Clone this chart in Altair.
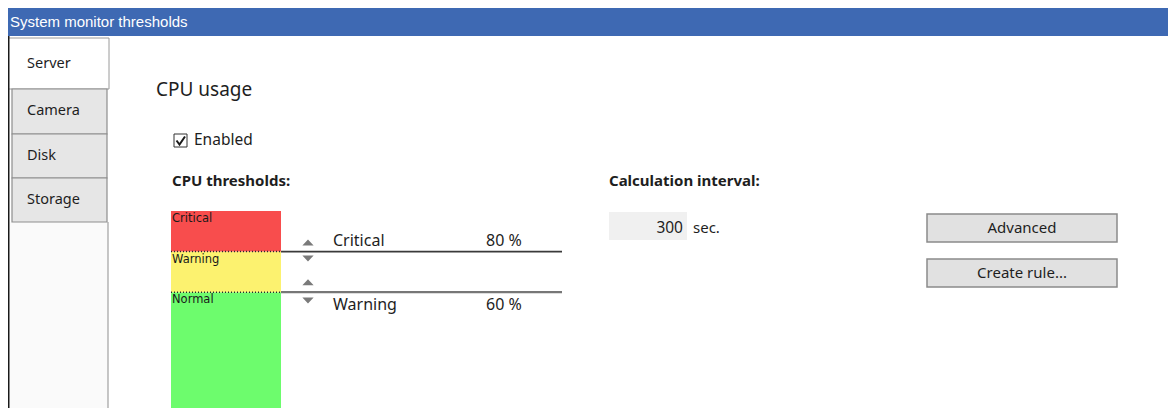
import altair as alt
import pandas as pd

# ---------------- values shown in the dialog ----------------
window_title = "System monitor thresholds"
section_title = "CPU usage"
tab_names = ["Server", "Camera", "Disk", "Storage"]
band_names = ["Normal", "Warning", "Critical"]
band_lo = [0, 60, 80]
band_hi = [60, 80, 100]
band_colors = ["#6dfc6d", "#fcf26f", "#f84d4d"]
threshold_names = ["Critical", "Warning"]
threshold_values = [80, 60]
interval_value = 300
interval_unit = "sec."
button_labels = ["Advanced", "Create rule..."]

# ---------------- layout (page pixels) ----------------
W, H = 1160, 400
UI = "Segoe UI, Noto Sans, Open Sans, sans-serif"
NARROW = "Liberation Sans Narrow, Arial Narrow, Liberation Sans, sans-serif"
SMALL = "Tahoma, DejaVu Sans, Liberation Sans, sans-serif"

px = alt.Scale(domain=[8, 8 + W], nice=False, zero=False)
py = alt.Scale(domain=[8, 8 + H], reverse=True, nice=False, zero=False)
pct = alt.Scale(domain=[0, 100], range=[414 - 8, 211 - 8], nice=False, zero=False)

BAR_X0, BAR_X1 = 171, 281
LINE_X1 = 562

# --- boxes ---
tab_y = [(38, 89), (89, 134), (134, 178), (178, 222)]
rows = [
    dict(x=8, x2=8 + W, y=8, y2=36, fill="#3e69b3", stroke="#3e69b3", sw=0),
    dict(x=8, x2=108, y=222, y2=8 + H, fill="#fafafa", stroke="#fafafa", sw=0),
]
for i, name in enumerate(tab_names):
    if i == 0:
        rows.append(dict(x=8, x2=109, y=tab_y[i][0], y2=tab_y[i][1], fill="#ffffff", stroke="#9a9a9a", sw=1))
    else:
        rows.append(dict(x=12, x2=107, y=tab_y[i][0], y2=tab_y[i][1], fill="#e6e6e6", stroke="#8e8e8e", sw=1.2))
rows.append(dict(x=174, x2=187, y=134, y2=147, fill="#ffffff", stroke="#333333", sw=1))
rows.append(dict(x=609, x2=687, y=212, y2=240, fill="#f0f0f0", stroke="#f0f0f0", sw=0))
btn_y = [(214, 242), (259, 287)]
for i, b in enumerate(button_labels):
    rows.append(dict(x=927, x2=1117, y=btn_y[i][0], y2=btn_y[i][1], fill="#e1e1e1", stroke="#8a8a8a", sw=1.5))
boxes = pd.DataFrame(rows)

box_layer = alt.Chart(boxes).mark_rect().encode(
    x=alt.X("x:Q", scale=px, axis=None), x2="x2:Q",
    y=alt.Y("y:Q", scale=py, axis=None), y2="y2:Q",
    fill=alt.Fill("fill:N", scale=None),
    stroke=alt.Stroke("stroke:N", scale=None),
    strokeWidth=alt.StrokeWidth("sw:Q", scale=None),
)

# --- vertical frame lines ---
vlines = pd.DataFrame([
    dict(x=8.5, y=36, y2=8 + H, c="#1a1a1a", sw=2),
    dict(x=108, y=222, y2=8 + H, c="#a0a0a0", sw=1.2),
])
vline_layer = alt.Chart(vlines).mark_rule().encode(
    x=alt.X("x:Q", scale=px, axis=None),
    y=alt.Y("y:Q", scale=py, axis=None), y2="y2:Q",
    color=alt.Color("c:N", scale=None),
    strokeWidth=alt.StrokeWidth("sw:Q", scale=None),
)

# --- check mark ---
check = pd.DataFrame(dict(x=[176.5, 179.5, 185], y=[140.5, 144.5, 136.5], o=[0, 1, 2]))
check_layer = alt.Chart(check).mark_line(color="#1a1a1a", strokeWidth=2).encode(
    x=alt.X("x:Q", scale=px, axis=None),
    y=alt.Y("y:Q", scale=py, axis=None),
    order="o:Q",
)

# --- texts in pixel space ---
def text_layer(df, font, weight="normal", align="left", color="#1e1e1e"):
    return alt.Chart(df).mark_text(
        font=font, fontWeight=weight, align=align, baseline="middle", color=color
    ).encode(
        x=alt.X("x:Q", scale=px, axis=None),
        y=alt.Y("y:Q", scale=py, axis=None),
        text="t:N",
        size=alt.Size("s:Q", scale=None),
    )

title_txt = pd.DataFrame([dict(t=window_title, x=10, y=22, s=15)])
tab_centers = [64, 111, 156, 200]
ui_txt = pd.DataFrame(
    [dict(t=n, x=27, y=tab_centers[i], s=14.5) for i, n in enumerate(tab_names)]
    + [
        dict(t=section_title, x=156, y=90, s=19),
        dict(t="Enabled", x=194, y=140, s=15.5),
        dict(t=interval_unit, x=693, y=228, s=15),
    ]
)
bold_txt = pd.DataFrame([
    dict(t="CPU thresholds:", x=172, y=181, s=15),
    dict(t="Calculation interval:", x=609, y=181, s=15),
])
right_txt = pd.DataFrame([dict(t=str(interval_value), x=683, y=228, s=15.5)])
btn_txt = pd.DataFrame([dict(t=b, x=1022, y=(btn_y[i][0] + btn_y[i][1]) / 2, s=15) for i, b in enumerate(button_labels)])

# ---------------- percent-scaled threshold bar ----------------
bands = pd.DataFrame(dict(name=band_names, lo=band_lo, hi=band_hi, c=band_colors,
                          x0=[BAR_X0] * 3, x1=[BAR_X1] * 3, lx=[BAR_X0 + 1] * 3))
band_layer = alt.Chart(bands).mark_rect().encode(
    x=alt.X("x0:Q", scale=px, axis=None), x2="x1:Q",
    y=alt.Y("lo:Q", scale=pct, axis=None), y2="hi:Q",
    fill=alt.Fill("c:N", scale=None),
)
band_label_layer = alt.Chart(bands).mark_text(
    font=SMALL, fontSize=11.5, align="left", baseline="top", dy=2, color="#1a1a1a"
).encode(
    x=alt.X("lx:Q", scale=px, axis=None),
    y=alt.Y("hi:Q", scale=pct, axis=None),
    text="name:N",
)

thr = pd.DataFrame(dict(
    name=threshold_names, v=threshold_values,
    lbl=[f"{v} %" for v in threshold_values],
    x0=[BAR_X0] * 2, xb=[BAR_X1] * 2, x1=[LINE_X1] * 2,
    c=["#3a3a3a", "#777777"], sw=[1.6, 2.2],
    ax=[308, 308], tx=[333, 333], vx=[486, 486],
    shp=[
        "M-0.65,-0.7L0.65,-0.7L0,-1.4Z M-0.65,0.45L0.65,0.45L0,1.15Z",
        "M-0.65,-0.8L0.65,-0.8L0,-1.5Z M-0.65,0.6L0.65,0.6L0,1.3Z",
    ],
))
dotted_layer = alt.Chart(thr).mark_rule(strokeDash=[1, 2], color="#2a2a2a", strokeWidth=1.5).encode(
    x=alt.X("x0:Q", scale=px, axis=None), x2="xb:Q",
    y=alt.Y("v:Q", scale=pct, axis=None),
)
thr_line_layer = alt.Chart(thr).mark_rule().encode(
    x=alt.X("xb:Q", scale=px, axis=None), x2="x1:Q",
    y=alt.Y("v:Q", scale=pct, axis=None),
    color=alt.Color("c:N", scale=None),
    strokeWidth=alt.StrokeWidth("sw:Q", scale=None),
)
arrow_layer = alt.Chart(thr).mark_point(filled=True, color="#7a7a7a", opacity=1, size=300).encode(
    x=alt.X("ax:Q", scale=px, axis=None),
    y=alt.Y("v:Q", scale=pct, axis=None),
    shape=alt.Shape("shp:N", scale=None),
)

def thr_text(which, dy):
    base = alt.Chart(thr).transform_filter(alt.datum.name == which)
    name_t = base.mark_text(font=UI, fontSize=16, align="left", baseline="middle", dy=dy, color="#1e1e1e").encode(
        x=alt.X("tx:Q", scale=px, axis=None),
        y=alt.Y("v:Q", scale=pct, axis=None),
        text="name:N",
    )
    val_t = base.mark_text(font=UI, fontSize=16, align="left", baseline="middle", dy=dy, color="#1e1e1e").encode(
        x=alt.X("vx:Q", scale=px, axis=None),
        y=alt.Y("v:Q", scale=pct, axis=None),
        text="lbl:N",
    )
    return name_t + val_t

chart = alt.layer(
    box_layer,
    vline_layer,
    check_layer,
    text_layer(title_txt, NARROW, color="#ffffff"),
    text_layer(ui_txt, UI),
    text_layer(bold_txt, UI, weight="bold"),
    text_layer(right_txt, UI, align="right"),
    text_layer(btn_txt, UI, align="center"),
    band_layer,
    band_label_layer,
    dotted_layer,
    thr_line_layer,
    arrow_layer,
    thr_text("Critical", -11),
    thr_text("Warning", 13),
).resolve_scale(y="independent").properties(
    width=W, height=H, padding=0, autosize=alt.AutoSizeParams(type="none")
).configure_view(stroke=None)

chart.save("out.html", embed_options={"renderer": "svg", "actions": False})
